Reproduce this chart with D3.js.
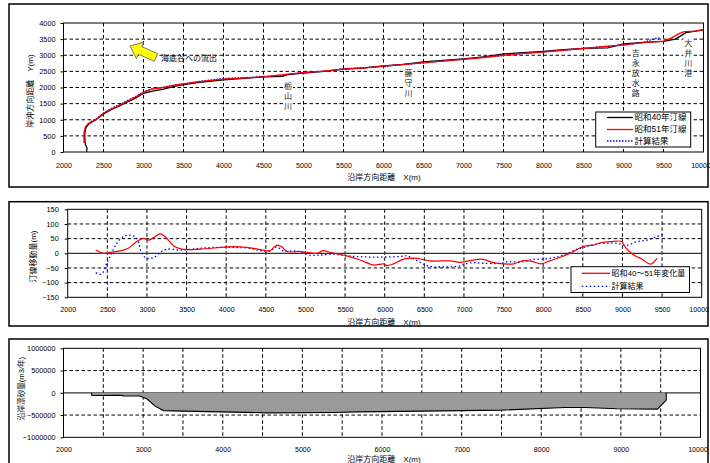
<!DOCTYPE html>
<html>
<head>
<meta charset="utf-8">
<script src="https://cdn.jsdelivr.net/npm/d3@7"></script>
<style>
  body { margin: 0; background: #fff; }
  svg { display: block; }
  text { font-family: "Liberation Sans", "Noto Sans CJK JP", sans-serif; fill: #000; }
</style>
</head>
<body>
<svg id="chart" width="710" height="463"></svg>
<script>
// ---- data ----
const xTicks = d3.range(2000, 10001, 500);
const xTicks1000 = d3.range(2000, 10001, 1000);

// panel 1: shoreline position Y(m) along X(m)
const shore40 = [[2290,0],[2293,130],[2276,220],[2268,330],[2266,560],[2280,760],[2320,880],[2400,990],[2500,1180],[2600,1320],[2700,1430],[2800,1550],[2900,1670],[3000,1820],[3100,1880],[3250,1950],[3400,2040],[3500,2090],[3700,2160],[4000,2240],[4300,2290],[4500,2330],[4740,2345],[4800,2400],[5000,2450],[5250,2500],[5500,2570],[5750,2610],[6000,2670],[6250,2720],[6500,2790],[6750,2840],[7000,2890],[7250,2950],[7500,3040],[7750,3080],[8000,3120],[8250,3170],[8500,3215],[8800,3230],[9000,3350],[9250,3400],[9500,3430],[9650,3500],[9780,3700],[9900,3750],[10000,3790]];
const shore51 = [[2256,280],[2257,620],[2275,780],[2310,880],[2400,1000],[2500,1200],[2600,1340],[2700,1450],[2800,1580],[2900,1700],[3000,1850],[3100,1950],[3250,2000],[3400,2080],[3500,2110],[3700,2180],[4000,2260],[4300,2300],[4500,2330],[4750,2400],[5000,2460],[5250,2510],[5500,2570],[5750,2600],[6000,2660],[6250,2710],[6500,2770],[6750,2820],[7000,2870],[7250,2930],[7500,3000],[7750,3060],[8000,3100],[8250,3160],[8500,3210],[8750,3270],[9000,3320],[9250,3390],[9500,3440],[9600,3540],[9700,3680],[9760,3730],[9900,3750],[10000,3800]];
const shoreCalc = [[2290,800],[2350,950],[2400,1010],[2500,1210],[2600,1350],[2700,1470],[2800,1600],[2900,1720],[3000,1860],[3100,1950],[3250,2010],[3400,2080],[3500,2110],[3700,2190],[4000,2280],[4300,2310],[4500,2340],[4750,2390],[5000,2470],[5250,2500],[5500,2580],[5750,2610],[6000,2650],[6250,2720],[6500,2760],[6750,2830],[7000,2880],[7250,2940],[7500,2990],[7750,3050],[8000,3110],[8250,3150],[8500,3210],[8750,3270],[9000,3310],[9250,3400],[9400,3520],[9470,3540]];

// panel 2: shoreline change (m)
const change4051 = [[2354,11],[2450,0],[2534,3],[2702,11],[2765,17],[2871,40],[2955,51],[3018,45],[3081,53],[3165,66],[3228,57],[3333,26],[3439,14],[3670,14],[4008,22],[4176,22],[4344,17],[4512,8],[4554,8],[4638,28],[4702,22],[4765,6],[4933,6],[5144,0],[5227,9],[5312,3],[5522,-9],[5691,-23],[5860,-40],[5985,-36],[6027,-42],[6111,-36],[6237,-20],[6300,-17],[6406,-17],[6574,-26],[6827,-26],[6953,-31],[7080,-25],[7227,-20],[7374,-32],[7500,-36],[7627,-36],[7753,-25],[7879,-29],[7963,-36],[8090,-25],[8258,-9],[8384,6],[8468,19],[8553,26],[8637,28],[8721,36],[8848,40],[8995,40],[9016,28],[9142,-6],[9248,-20],[9353,-37],[9437,-17]];
const changeCalc = [[2354,-66],[2408,-72],[2450,-63],[2492,-34],[2555,0],[2619,34],[2702,57],[2786,62],[2871,51],[2934,0],[2997,-17],[3081,-15],[3165,2],[3249,14],[3418,11],[3670,17],[3838,20],[4091,20],[4302,17],[4428,9],[4554,9],[4638,22],[4722,8],[4891,8],[5059,-6],[5186,-6],[5354,-3],[5522,-9],[5649,-11],[5860,-13],[6196,-11],[6280,-9],[6406,-25],[6532,-42],[6616,-46],[6953,-43],[7016,-36],[7121,-32],[7248,-34],[7458,-34],[7542,-29],[7753,-29],[7879,-20],[8005,-20],[8131,-15],[8258,-6],[8426,14],[8510,20],[8679,32],[8932,34],[9058,28],[9185,40],[9311,45],[9437,57],[9521,65]];

// panel 3: longshore transport (m3/year)
const drift = [[2355,0],[2355,-62000],[2700,-55000],[2760,-68000],[2960,-72000],[3050,-140000],[3150,-300000],[3255,-400000],[3500,-412000],[4300,-440000],[4550,-450000],[5400,-442000],[5700,-428000],[6500,-412000],[7500,-390000],[8300,-330000],[8550,-330000],[8950,-360000],[9460,-367000],[9570,-165000],[9570,0]];

// place names (vertical text), x in m, top in px
const places = [
  { name: '栃山川', x: 4805, top: 86 },
  { name: '藤守川', x: 6311, top: 73 },
  { name: '吉永放水路', x: 9152, top: 53 },
  { name: '大井川港', x: 9810, top: 43 }
];

const svg = d3.select('#chart');
svg.append('rect').attr('width', 710).attr('height', 463).attr('fill', '#fff');

function drawPanel(cfg) {
  const g = svg.append('g');
  g.append('rect')
    .attr('x', cfg.box[0]).attr('y', cfg.box[1])
    .attr('width', cfg.box[2]).attr('height', cfg.box[3])
    .attr('fill', '#fff').attr('stroke', '#000').attr('stroke-width', 1.5);

  const x = d3.scaleLinear().domain([2000, 10000]).range([cfg.l, cfg.r]);
  const y = d3.scaleLinear().domain(cfg.yDomain).range([cfg.b, cfg.t]);

  // grid
  const grid = g.append('g').attr('stroke', '#000').attr('stroke-width', 1)
    .attr('stroke-dasharray', '3.5,2.5');
  grid.selectAll('.vx').data(xTicks.slice(1, -1)).enter().append('line')
    .attr('x1', d => x(d)).attr('x2', d => x(d)).attr('y1', cfg.t).attr('y2', cfg.b);
  grid.selectAll('.hy').data(cfg.yTicks.slice(1, -1).filter(d => d !== 0)).enter().append('line')
    .attr('x1', cfg.l).attr('x2', cfg.r).attr('y1', d => y(d)).attr('y2', d => y(d));
  if (cfg.zeroLine) {
    g.append('line').attr('x1', cfg.l).attr('x2', cfg.r)
      .attr('y1', y(0)).attr('y2', y(0)).attr('stroke', '#333').attr('stroke-width', 1.2);
  }

  // axes
  const ax = g.append('g').attr('transform', `translate(0,${cfg.b})`)
    .call(d3.axisBottom(x).tickValues(cfg.xLabels).tickSize(0).tickPadding(cfg.xPad).tickFormat(d3.format('d')));
  ax.select('.domain').remove();
  ax.selectAll('text').style('font-size', '7.1px').style('font-family', '"Liberation Sans", sans-serif')
    .attr('dx', d => d === 10000 ? -3 : 0); // keep last label inside the page

  const ay = g.append('g').attr('transform', `translate(${cfg.l},0)`)
    .call(d3.axisLeft(y).tickValues(cfg.yTicks).tickSize(3).tickPadding(cfg.yPad).tickFormat(d3.format('d')));
  ay.select('.domain').remove();
  ay.selectAll('line').attr('stroke', '#000');
  ay.selectAll('text').style('font-size', '7.3px').style('font-family', '"Liberation Sans", sans-serif');

  // titles
  g.append('text').attr('x', 384).attr('y', cfg.xTitleY).attr('text-anchor', 'middle')
    .style('font-size', '8px').text('沿岸方向距離　X(m)');
  g.append('text').attr('transform', `translate(${cfg.yTitle[0]},${cfg.yTitle[1]}) rotate(-90)`)
    .attr('text-anchor', 'middle').attr('dy', '0.35em')
    .style('font-size', cfg.yTitleSize || '8px').text(cfg.yTitleText);

  return { g, x, y, cfg };
}

function drawBorder(p) {
  const c = p.cfg;
  p.g.append('rect').attr('x', c.l).attr('y', c.t).attr('width', c.r - c.l).attr('height', c.b - c.t)
    .attr('fill', 'none').attr('stroke', '#000').attr('stroke-width', 1);
}

function legend(p, box, rows) {
  const lg = p.g.append('g');
  lg.append('rect').attr('x', box[0]).attr('y', box[1]).attr('width', box[2]).attr('height', box[3])
    .attr('fill', '#fff').attr('stroke', '#000').attr('stroke-width', 1);
  rows.forEach(r => {
    lg.append('line').attr('x1', r.x1).attr('x2', r.x2).attr('y1', r.y).attr('y2', r.y)
      .attr('stroke', r.color).attr('stroke-width', r.w || 1.3)
      .attr('stroke-dasharray', r.dash || null);
    lg.append('text').attr('x', r.x2 + 1.5).attr('y', r.y).attr('dy', '0.35em')
      .style('font-size', r.size || '8.5px').text(r.label);
  });
}

// ---------- panel 1 ----------
const p1 = drawPanel({
  box: [9, 4, 699, 183], l: 63.5, r: 703.5, t: 23, b: 152,
  yDomain: [0, 4000], yTicks: d3.range(0, 4001, 500), xLabels: xTicks,
  xPad: 11, yPad: 5, xTitleY: 179.5, yTitle: [30, 91], yTitleText: '岸沖方向距離　Y(m)'
});
{
  const line = d3.line().x(d => p1.x(d[0])).y(d => p1.y(d[1]));
  // place names, stacked vertically over a white patch
  places.forEach(pl => {
    const xs = p1.x(pl.x);
    const n = pl.name.length;
    p1.g.append('rect').attr('x', xs - 5).attr('y', pl.top - 5).attr('width', 10).attr('height', (n - 1) * 10 + 10)
      .attr('fill', '#fff');
    pl.name.split('').forEach((ch, i) => {
      p1.g.append('text').attr('x', xs).attr('y', pl.top + i * 10).attr('dy', '0.35em')
        .attr('text-anchor', 'middle').style('font-size', '8px').style('fill', '#222').text(ch);
    });
  });
  drawBorder(p1);
  p1.g.append('path').datum(shore40).attr('d', line).attr('fill', 'none').attr('stroke', '#000').attr('stroke-width', 1.3);
  p1.g.append('path').datum(shoreCalc).attr('d', line).attr('fill', 'none').attr('stroke', '#0000ff')
    .attr('stroke-width', 1.3).attr('stroke-dasharray', '1.5,1.5');
  p1.g.append('path').datum(shore51).attr('d', line).attr('fill', 'none').attr('stroke', '#ff0000').attr('stroke-width', 1.3);

  // yellow arrow towards the submarine canyon
  const tail = [156, 57.5], tip = [130, 46];
  const ang = Math.atan2(tip[1] - tail[1], tip[0] - tail[0]) * 180 / Math.PI;
  const L = Math.hypot(tip[0] - tail[0], tip[1] - tail[1]);
  const shape = [[0, -4.2], [L - 11, -4.2], [L - 11, -9], [L, 0], [L - 11, 9], [L - 11, 4.2], [0, 4.2]];
  p1.g.append('polygon')
    .attr('points', shape.map(d => d.join(',')).join(' '))
    .attr('transform', `translate(${tail[0]},${tail[1]}) rotate(${ang})`)
    .attr('fill', '#ffff00').attr('stroke', '#666').attr('stroke-width', 0.8);
  p1.g.append('text').attr('x', 161).attr('y', 58).attr('dy', '0.35em')
    .style('font-size', '8px').text('海底谷への流出');

  legend(p1, [595.7, 112, 95, 35], [
    { x1: 607, x2: 633, y: 117.5, color: '#000', label: '昭和40年汀線' },
    { x1: 607, x2: 633, y: 129.5, color: '#ff0000', label: '昭和51年汀線' },
    { x1: 607, x2: 633, y: 141, color: '#0000ff', dash: '1.5,1.5', label: '計算結果' }
  ]);
}

// ---------- panel 2 ----------
const p2 = drawPanel({
  box: [9, 201.7, 699, 124.3], l: 67.7, r: 701.7, t: 209.3, b: 297.3,
  yDomain: [-150, 150], yTicks: d3.range(-150, 151, 50), xLabels: xTicks,
  xPad: 10, yPad: 6, xTitleY: 325, yTitle: [33, 256.5], yTitleText: '汀線移動量(m)', zeroLine: true
});
{
  drawBorder(p2);
  const line = d3.line().x(d => p2.x(d[0])).y(d => p2.y(d[1])).curve(d3.curveCatmullRom);
  p2.g.append('path').datum(changeCalc).attr('d', line).attr('fill', 'none')
    .attr('stroke', '#0000ff').attr('stroke-width', 1.3).attr('stroke-dasharray', '1.5,2.5');
  p2.g.append('path').datum(change4051).attr('d', line).attr('fill', 'none')
    .attr('stroke', '#ff0000').attr('stroke-width', 1.2);
  legend(p2, [571, 266.7, 118.5, 25.8], [
    { x1: 581.7, x2: 610, y: 273.3, color: '#ff0000', label: '昭和40～51年変化量', size: '8px' },
    { x1: 581.7, x2: 610, y: 286.3, color: '#0000ff', dash: '1.5,2.5', label: '計算結果', size: '8px' }
  ]);
}

// ---------- panel 3 ----------
const p3 = drawPanel({
  box: [9, 339, 699, 140], l: 63.5, r: 700.5, t: 348.3, b: 437.3,
  yDomain: [-1000000, 1000000], yTicks: d3.range(-1000000, 1000001, 500000), xLabels: xTicks1000,
  xPad: 10, yPad: 5, xTitleY: 461.5, yTitle: [21, 388.5], yTitleText: '沿岸漂砂量(m3/年)', yTitleSize: '7.6px', zeroLine: true
});
{
  const area = d3.area().x(d => p3.x(d[0])).y0(p3.y(0)).y1(d => p3.y(d[1]));
  const line = d3.line().x(d => p3.x(d[0])).y(d => p3.y(d[1]));
  p3.g.append('path').datum(drift).attr('d', area).attr('fill', '#999');
  p3.g.append('path').datum(drift).attr('d', line).attr('fill', 'none').attr('stroke', '#000').attr('stroke-width', 1.1);
  drawBorder(p3);
}
</script>
</body>
</html>
